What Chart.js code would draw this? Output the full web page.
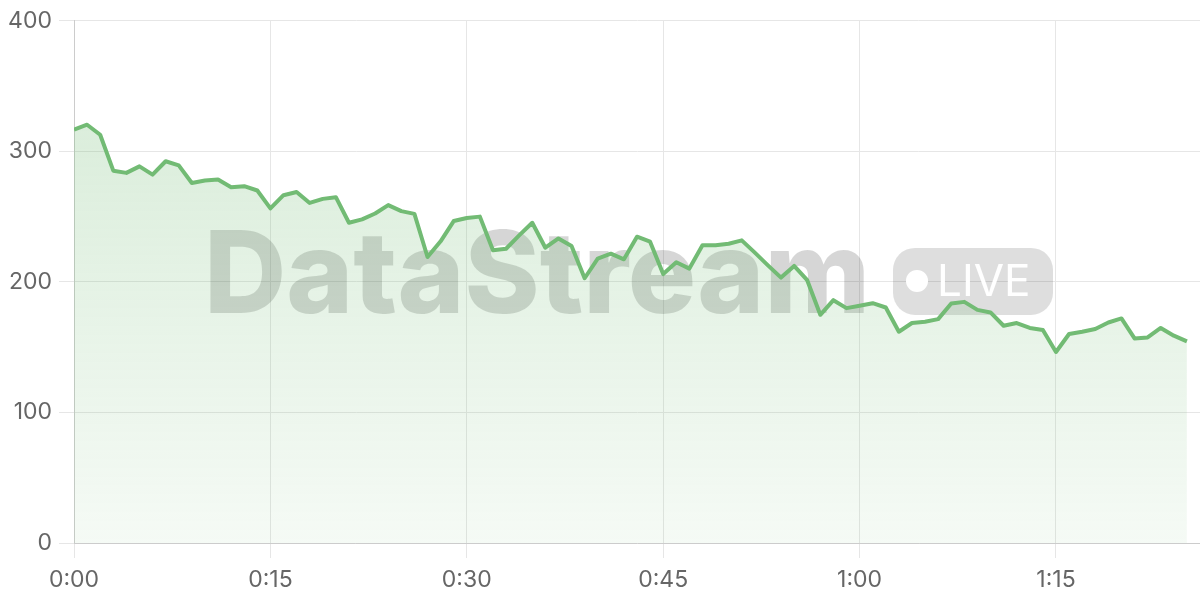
<!DOCTYPE html>
<html>
<head>
<meta charset="utf-8">
<script src="https://cdn.jsdelivr.net/npm/chart.js@4.4.1/dist/chart.umd.min.js"></script>
<style>
html,body{margin:0;padding:0;background:#fff;}
#wrap{width:1200px;height:600px;}
</style>
</head>
<body>
<div id="wrap"><canvas id="c" width="1200" height="600"></canvas></div>
<script>
const minutes = [0,1,2,3,4,5,6,7,8,9,10,11,12,13,14,15,16,17,18,19,20,21,22,23,24,25,26,27,28,29,30,31,32,33,34,35,36,37,38,39,40,41,42,43,44,45,46,47,48,49,50,51,52,53,54,55,56,57,58,59,60,61,62,63,64,65,66,67,68,69,70,71,72,73,74,75,76,77,78,79,80,81,82,83,84,85];
const values = [316.6,320.4,312.7,285.2,283.5,288.5,282.2,292.4,289.3,275.8,277.6,278.4,272.5,273.3,270.0,
256.3,266.4,268.9,260.5,263.6,264.9,245.3,247.9,252.4,258.8,254.2,252.1,219.1,231.1,246.6,
249.0,250.0,224.2,225.4,235.6,245.3,226.2,233.3,227.5,202.8,217.8,221.6,217.3,234.6,230.8,
206.0,215.0,210.2,228.0,228.0,229.2,231.8,222.4,212.7,203.3,212.2,201.3,174.8,186.0,179.9,
181.7,183.7,180.4,161.8,168.5,169.5,171.5,183.4,184.7,178.6,176.6,166.4,168.5,164.7,163.1,
146.3,160.1,161.8,163.9,168.9,172.0,156.7,157.5,164.7,158.8,154.4];
const xTickValues = [0,15,30,45,60,75];
const yTickValues = [0,100,200,300,400];
const watermarkText = "DataStream";
const badgeText = "LIVE";

const LINE = 'rgb(114,187,116)';
const FONT = "Inter, 'Noto Sans', sans-serif";

function fmtTime(m){
  const h = Math.floor(m/60), mm = m%60;
  return h + ':' + String(mm).padStart(2,'0');
}

const watermark = {
  id:'watermark',
  beforeDatasetsDraw(chart){
    const ctx = chart.ctx, a = chart.chartArea;
    ctx.save();
    const inkLeft = a.left + 136, inkW = 655;
    ctx.font = "800 100px " + FONT;
    let m = ctx.measureText(watermarkText);
    const w100 = m.actualBoundingBoxLeft + m.actualBoundingBoxRight;
    const fs = 100 * inkW / w100;
    ctx.font = "800 " + fs + "px " + FONT;
    m = ctx.measureText(watermarkText);
    const cy = (a.top + a.bottom)/2;
    ctx.fillStyle = 'rgba(0,0,0,0.16)';
    ctx.textBaseline = 'alphabetic';
    ctx.textAlign = 'left';
    ctx.fillText(watermarkText, inkLeft + m.actualBoundingBoxLeft, cy + 31);
    // pill
    const px = a.left + 819, py = cy - 34, pillW = 160, pillH = 67;
    ctx.fillStyle = 'rgba(0,0,0,0.13)';
    ctx.beginPath();
    ctx.roundRect(px, py, pillW, pillH, 22);
    ctx.fill();
    ctx.fillStyle = '#ffffff';
    ctx.beginPath();
    ctx.arc(px + 24, cy - 1, 11, 0, Math.PI*2);
    ctx.fill();
    ctx.font = "44px " + FONT;
    ctx.fillText(badgeText, px + 44, cy + 14);
    ctx.restore();
  }
};

const ctx = document.getElementById('c').getContext('2d');
new Chart(ctx, {
  type:'line',
  data:{
    datasets:[{
      data: minutes.map((m,i)=>({x:m, y:values[i]})),
      borderColor: LINE,
      borderWidth: 4,
      pointRadius: 0,
      tension: 0,
      borderJoinStyle:'round',
      fill: 'origin',
      backgroundColor(c){
        const a = c.chart.chartArea;
        if(!a) return 'rgba(114,187,116,0.2)';
        const g = c.chart.ctx.createLinearGradient(0, a.top, 0, a.bottom);
        g.addColorStop(0, 'rgba(114,187,116,0.30)');
        g.addColorStop(1, 'rgba(114,187,116,0.07)');
        return g;
      }
    }]
  },
  options:{
    responsive:false,
    animation:false,
    devicePixelRatio:1,
    layout:{padding:{top:19,right:0,left:0,bottom:0}},
    plugins:{legend:{display:false},tooltip:{enabled:false}},
    scales:{
      x:{
        type:'linear', min:0, max:86,
        afterBuildTicks(s){ s.ticks = xTickValues.map(v=>({value:v})); },
        afterFit(s){ s.height = 57; },
        grid:{color:'#e6e6e6', lineWidth:1, tickLength:15, drawTicks:true},
        border:{color:'#cccccc', width:1},
        ticks:{color:'#666', font:{family:FONT, size:23}, padding:8, maxRotation:0,
          callback:(v)=>fmtTime(v)}
      },
      y:{
        min:0, max:400,
        afterBuildTicks(s){ s.ticks = yTickValues.map(v=>({value:v})); },
        afterFit(s){ s.width = 74; },
        grid:{color:'#e6e6e6', lineWidth:1, tickLength:15, drawTicks:true},
        border:{color:'#cccccc', width:1},
        ticks:{color:'#666', font:{family:FONT, size:23}, padding:7}
      }
    }
  },
  plugins:[watermark]
});
</script>
</body>
</html>
